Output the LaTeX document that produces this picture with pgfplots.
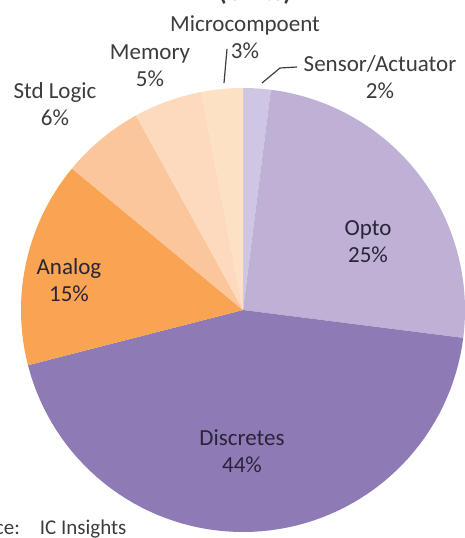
\documentclass[border=0pt]{standalone}
\usepackage{pgfplots}
\pgfplotsset{compat=1.18}
\usepackage{pgfplotstable}
\usepackage{fontspec}
\setmainfont{Carlito}
\definecolor{cSens}{HTML}{CEC6E3}
\definecolor{cOpto}{HTML}{BFB1D6}
\definecolor{cDisc}{HTML}{8E7AB5}
\definecolor{cAnalog}{HTML}{F9A453}
\definecolor{cStd}{HTML}{FBC69B}
\definecolor{cMem}{HTML}{FDDABD}
\definecolor{cMicro}{HTML}{FCE1C4}
\definecolor{outtxt}{HTML}{3C3C3C}
\definecolor{intxt}{HTML}{2A2438}
\pgfplotstableread{
label value color
Sensor 2 cSens
Opto 25 cOpto
Discretes 44 cDisc
Analog 15 cAnalog
StdLogic 6 cStd
Memory 5 cMem
Micro 3 cMicro
}\piedata
\begin{document}
\begin{tikzpicture}
\begin{axis}[name=ax, scale only axis, width=464pt, height=538pt,
  xmin=0, xmax=464, ymin=0, ymax=538, y dir=reverse, hide axis, clip=false]
\gdef\cum{0}
\pgfplotsinvokeforeach{0,...,6}{
  \pgfplotstablegetelem{#1}{value}\of\piedata \let\sliceval\pgfplotsretval
  \pgfplotstablegetelem{#1}{color}\of\piedata \let\slicecol\pgfplotsretval
  \pgfmathsetmacro\aS{90-3.6*\cum}
  \pgfmathsetmacro\aE{90-3.6*(\cum+\sliceval)}
  \pgfmathsetmacro\newcum{\cum+\sliceval}
  \xdef\cum{\newcum}
  \edef\doplot{\noexpand\addplot[fill=\slicecol, draw=none, domain=\aE:\aS, samples=70]
     ({243+222*cos(x)},{310-222*sin(x)}) -- (axis cs:243,310) -- cycle;}
  \doplot
}
\tikzset{lab/.style={align=center, font=\fontsize{23}{27}\selectfont}}
\node[lab, text=outtxt] at (axis cs:245,37) {Microcompoent\\3\%};
\node[lab, text=outtxt] at (axis cs:150,66) {Memory\\5\%};
\node[lab, text=outtxt] at (axis cs:55,104) {Std Logic\\6\%};
\node[lab, text=outtxt] at (axis cs:380,77) {Sensor/Actuator\\2\%};
\node[lab, text=intxt] at (axis cs:368,242) {Opto\\25\%};
\node[lab, text=intxt] at (axis cs:69,280) {Analog\\15\%};
\node[lab, text=intxt] at (axis cs:242,451) {Discretes\\44\%};
\draw[outtxt, line width=1.2pt] (axis cs:227,49) -- (axis cs:224,83);
\draw[outtxt, line width=1.2pt] (axis cs:262,83) -- (axis cs:280,68) -- (axis cs:297,67);
\node[anchor=base, font=\bfseries\fontsize{26}{30}\selectfont, text=outtxt] at (axis cs:255,1) {(Units)};
\node[anchor=base east, font=\fontsize{21}{25}\selectfont, text=outtxt] at (axis cs:130,534) {Source:\hspace{20pt}IC Insights};
\end{axis}
\pgfresetboundingbox
\useasboundingbox (ax.south west) rectangle (ax.north east);
\end{tikzpicture}
\end{document}
